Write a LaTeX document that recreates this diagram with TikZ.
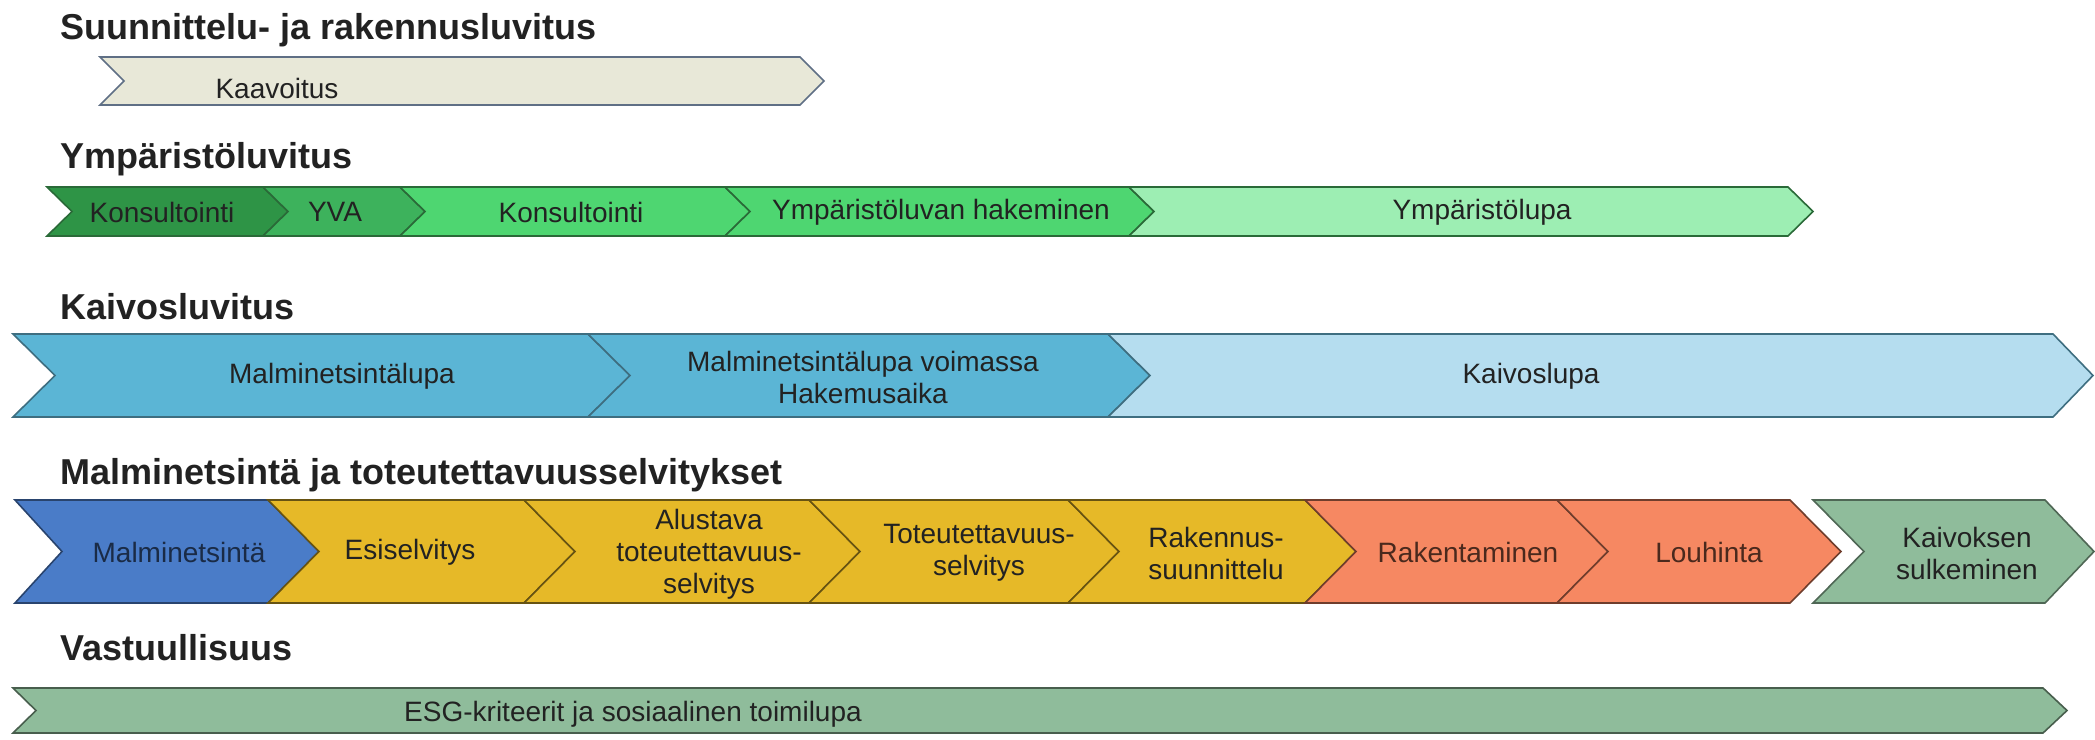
\documentclass[tikz,border=0pt]{standalone}
\usepackage{fontspec}
\setmainfont{Liberation Sans}
\definecolor{rAfill}{HTML}{E8E8D8}
\definecolor{rAdraw}{HTML}{5F6F85}
\definecolor{gA}{HTML}{2E9446}
\definecolor{gB}{HTML}{3DB25C}
\definecolor{gC}{HTML}{4ED671}
\definecolor{gD}{HTML}{9DEEB3}
\definecolor{gdraw}{HTML}{2A6A38}
\definecolor{bA}{HTML}{5BB5D5}
\definecolor{bB}{HTML}{B5DDEF}
\definecolor{bdraw}{HTML}{3E6E80}
\definecolor{blu}{HTML}{4A7CC8}
\definecolor{gold}{HTML}{E6B928}
\definecolor{salm}{HTML}{F68862}
\definecolor{sage}{HTML}{8FBC9B}
\definecolor{txt}{HTML}{222222}
\newcommand\chevseg[8]{%
  \path[segbox,fill=#1,draw=#2] (#5,#3) -- (#7,#3) -- (#8,{(#3+#4)/2}) -- (#7,#4) -- (#5,#4) -- (#6,{(#3+#4)/2}) -- cycle;}
\begin{document}
\begin{tikzpicture}[x=1pt,y=-1pt,
  ttl/.style={anchor=west,inner sep=0pt,font=\fontsize{36}{40}\selectfont\bfseries,text=txt},
  lbl/.style={inner sep=0pt,align=center,font=\fontsize{28}{32}\selectfont,text=txt},
  segbox/.style={line width=1.6pt,line join=miter}]
\useasboundingbox[fill=white] (0,0) rectangle (2095,739);

% Row 1
\node[ttl] (t1) at (60,30) {Suunnittelu- ja rakennusluvitus};
\chevseg{rAfill}{rAdraw}{57}{105}{100}{124}{800}{824}
\node[lbl] (kaav) at (277,88) {Kaavoitus};

% Row 2
\node[ttl] (t2) at (60,159) {Ympäristöluvitus};
\chevseg{gA}{gdraw}{187}{236}{47}{72}{263}{288}
\chevseg{gB}{gdraw}{187}{236}{263}{288}{400}{425}
\chevseg{gC}{gdraw}{187}{236}{400}{425}{725}{750}
\chevseg{gC}{gdraw}{187}{236}{725}{750}{1129}{1154}
\chevseg{gD}{gdraw}{187}{236}{1129}{1154}{1788}{1813}
\node[lbl] (kons1) at (162,212) {Konsultointi};
\node[lbl] (yva) at (335,212) {YVA};
\node[lbl] (kons2) at (571,212) {Konsultointi};
\node[lbl] (hak) at (941,212) {Ympäristöluvan hakeminen};
\node[lbl] (ylupa) at (1482,212) {Ympäristölupa};

% Row 3
\node[ttl] (t3) at (60,307) {Kaivosluvitus};
\chevseg{bA}{bdraw}{334}{417}{13}{55}{588}{630}
\chevseg{bA}{bdraw}{334}{417}{588}{630}{1108}{1150}
\chevseg{bB}{bdraw}{334}{417}{1108}{1150}{2053}{2093}
\node[lbl] (mlupa) at (342,376) {Malminetsintälupa};
\node[lbl] (voim) at (863,377) {Malminetsintälupa voimassa\\Hakemusaika};
\node[lbl] (klupa) at (1531,376) {Kaivoslupa};

% Row 4
\node[ttl] (t4) at (60,475) {Malminetsintä ja toteutettavuusselvitykset};
\chevseg{blu}{blu!55!black}{500}{603}{15}{62}{268}{319}
\chevseg{gold}{gold!45!black}{500}{603}{268}{319}{524}{575}
\chevseg{gold}{gold!45!black}{500}{603}{524}{575}{809}{860}
\chevseg{gold}{gold!45!black}{500}{603}{809}{860}{1068}{1119}
\chevseg{gold}{gold!45!black}{500}{603}{1068}{1119}{1305}{1356}
\chevseg{salm}{salm!45!black}{500}{603}{1305}{1356}{1557}{1608}
\chevseg{salm}{salm!45!black}{500}{603}{1557}{1608}{1790}{1841}
\chevseg{sage}{sage!55!black}{500}{603}{1813}{1864}{2045}{2094}
\node[lbl,text=blu!35!black] (malm) at (179,552) {Malminetsintä};
\node[lbl] (esis) at (410,552) {Esiselvitys};
\node[lbl] (alus) at (709,554) {Alustava\\toteutettavuus-\\selvitys};
\node[lbl] (tote) at (979,553) {Toteutettavuus-\\selvitys};
\node[lbl] (rsuun) at (1216,553) {Rakennus-\\suunnittelu};
\node[lbl,text=salm!30!black] (raken) at (1468,552) {Rakentaminen};
\node[lbl,text=salm!30!black] (louh) at (1709,552) {Louhinta};
\node[lbl] (sulk) at (1967,553) {Kaivoksen\\sulkeminen};

% Row 5
\node[ttl] (t5) at (60,648) {Vastuullisuus};
\chevseg{sage}{sage!50!black}{688}{733}{13}{36}{2043}{2067}
\node[lbl] (esg) at (633,714) {ESG-kriteerit ja sosiaalinen toimilupa};
\end{tikzpicture}
\end{document}
